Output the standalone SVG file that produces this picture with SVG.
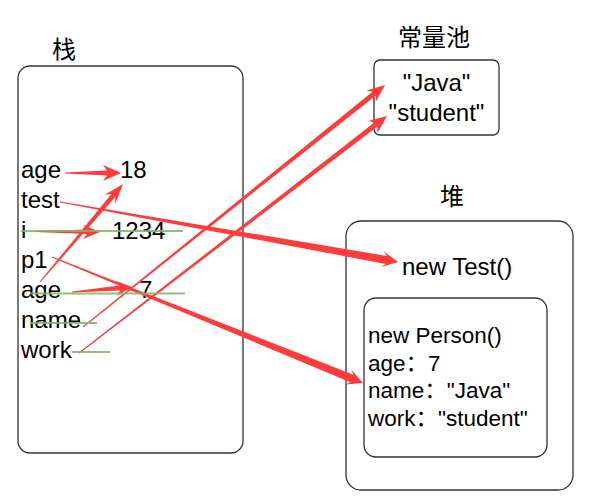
<svg xmlns="http://www.w3.org/2000/svg" width="606" height="504" viewBox="0 0 606 504">
<style>
  .box { fill: #ffffff; stroke: #333333; stroke-width: 1.3; }
  .t { font-family: "Liberation Sans", Arial, "Noto Sans CJK SC", sans-serif; font-size: 24px; fill: #000000; }
  .s { font-family: "Liberation Sans", Arial, "Noto Sans CJK SC", sans-serif; font-size: 22.5px; fill: #000000; }
  .cjk { font-family: "Noto Sans CJK SC", "Noto Sans CJK JP", sans-serif; font-size: 24px; fill: #000000; }
  .arr { fill: #ff3b3b; stroke: none; }
  .g { stroke: #82b366; stroke-width: 2; opacity: 0.85; fill: none; }
</style>
<rect width="606" height="504" fill="#ffffff"/>

<g id="stack">
  <text class="cjk" x="52" y="58">栈</text>
  <rect class="box" x="18" y="66" width="225" height="387" rx="12"/>
  <text class="t" x="21" y="178">age</text>
  <text class="t" x="21" y="208">test</text>
  <text class="t" x="21" y="238">i</text>
  <text class="t" x="21" y="268">p1</text>
  <text class="t" x="21" y="298">age</text>
  <text class="t" x="21" y="328">name</text>
  <text class="t" x="21" y="358">work</text>
  <text class="t" x="120" y="178">18</text>
  <text class="t" x="112" y="239">1234</text>
  <text class="t" x="139" y="298">7</text>
</g>

<g id="constant-pool">
  <text class="cjk" x="434" y="46" text-anchor="middle">常量池</text>
  <rect class="box" x="374" y="60" width="125" height="75" rx="6"/>
  <text class="t" x="436.5" y="91" text-anchor="middle">"Java"</text>
  <text class="t" x="436.5" y="121" text-anchor="middle">"student"</text>
</g>

<g id="heap">
  <text class="cjk" x="440" y="205">堆</text>
  <rect class="box" x="346" y="221" width="227" height="269" rx="15"/>
  <text class="t" x="402" y="275">new Test()</text>
</g>

<g id="person">
  <rect class="box" x="364" y="298" width="183" height="159" rx="12"/>
  <text class="s" x="368" y="343">new Person()</text>
  <text class="s" x="368" y="371">age：7</text>
  <text class="s" x="368" y="398">name："Java"</text>
  <text class="s" x="368" y="426">work："student"</text>
</g>

<g id="connectors">
  <polygon class="arr" points="65,172.5 107,170.5 103,165 121,173 103,181 107,175.5 65,173.5"/>
  <polygon class="arr" points="40.4,282.3 115.2,197.1 115.4,203.8 123,184 104.8,194.8 111.4,193.9 39.6,281.7"/>
  <polygon class="arr" points="35,231 87,229.5 83,225 100,232 83,239 87,234 35,232"/>
  <polygon class="arr" points="72.04,292.5 120.2,290.5 116.7,295.8 132,287 115.4,280.8 119.8,285.5 71.96,291.5"/>
  <polygon class="arr" points="59.91,202.49 385.5,263.9 380.85,267.1 398,262 383.65,251.3 386.9,256.0 60.09,201.51"/>
  <polygon class="arr" points="51.81,257.46 350.4,382.2 345.17,384.40 363,383 351.17,369.58 353.4,374.8 52.19,256.54"/>
  <polygon class="arr" points="83.31,327.39 375.63,95.71 375.64,102.11 385,85 366.26,90.41 372.51,91.81 82.69,326.61"/>
  <polygon class="arr" points="79.30,353.40 377.42,126.52 377.30,132.92 387,116 368.16,121.04 374.38,122.56 78.70,352.60"/>
  <line class="g" x1="21" y1="231" x2="183" y2="231"/>
  <line class="g" x1="30" y1="293.5" x2="185" y2="293.5"/>
  <line class="g" x1="30" y1="323" x2="97" y2="323"/>
  <line class="g" x1="72" y1="352" x2="110" y2="352"/>
</g>
</svg>
